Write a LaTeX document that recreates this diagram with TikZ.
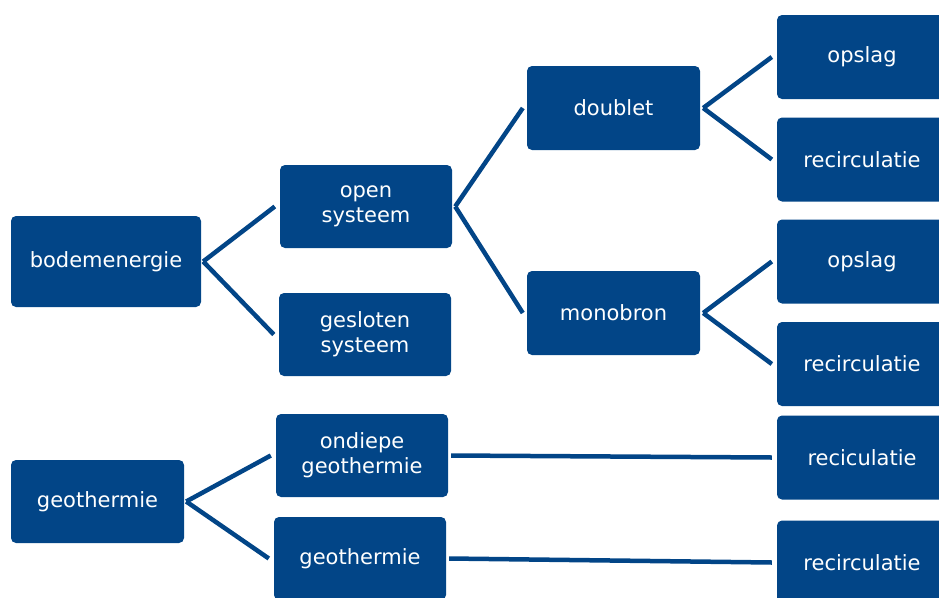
\documentclass[tikz,border=0pt]{standalone}
\usepackage{fontspec}
\setmainfont{DejaVu Sans}
\definecolor{bodemblue}{RGB}{2,69,135}
\begin{document}
\begin{tikzpicture}[x=1pt,y=-1pt,
    category/.style ={rectangle, rounded corners=5pt, fill=bodemblue, text=white, align=center,
                      inner sep=0pt, minimum width=172pt, minimum height=83pt,
                      font=\fontsize{21}{25}\selectfont},
    branch/.style ={draw=bodemblue, line width=4.5pt}]
   \useasboundingbox (0,0) rectangle (939,597);
   % left column
   \node[category, minimum width=190pt, minimum height=91pt] (bodem) at (106,261.5) {bodemenergie};
   \node[category, minimum width=173pt] (geoleft) at (97.5,501.5) {geothermie};
   % second column
   \node[category] (open) at (366,206.5) {open\\systeem};
   \node[category] (gesloten) at (365,334.5) {gesloten\\systeem};
   \node[category] (ondiepe) at (362,455.5) {ondiepe\\geothermie};
   \node[category] (geomid) at (360,558.5) {geothermie};
   % third column
   \node[category, minimum width=173pt, minimum height=84pt] (doublet) at (613.5,108) {doublet};
   \node[category, minimum width=173pt, minimum height=84pt] (monobron) at (613.5,313) {monobron};
   % right column
   \node[category, minimum width=170pt, minimum height=84pt] (opslagA) at (862,57) {opslag};
   \node[category, minimum width=170pt, minimum height=84pt] (recircA) at (862,159.5) {recirculatie};
   \node[category, minimum width=170pt, minimum height=84pt] (opslagB) at (862,261.5) {opslag};
   \node[category, minimum width=170pt, minimum height=84pt] (recircB) at (862,364) {recirculatie};
   \node[category, minimum width=170pt, minimum height=84pt] (recicul) at (862,457.5) {reciculatie};
   \node[category, minimum width=170pt, minimum height=84pt] (recircC) at (862,562.5) {recirculatie};
   % branches
   \draw[branch] ([xshift=2pt]bodem.east) -- ([xshift=-5pt]open.west);
   \draw[branch] ([xshift=2pt]bodem.east) -- ([xshift=-5pt]gesloten.west);
   \draw[branch] ([xshift=3pt]open.east) -- ([xshift=-4pt]doublet.west);
   \draw[branch] ([xshift=3pt]open.east) -- ([xshift=-4pt]monobron.west);
   \draw[branch] ([xshift=3pt]doublet.east) -- ([xshift=-5pt]opslagA.west);
   \draw[branch] ([xshift=3pt]doublet.east) -- ([xshift=-5pt]recircA.west);
   \draw[branch] ([xshift=3pt]monobron.east) -- ([xshift=-5pt]opslagB.west);
   \draw[branch] ([xshift=3pt]monobron.east) -- ([xshift=-5pt]recircB.west);
   \draw[branch] ([xshift=2pt]geoleft.east) -- ([xshift=-5pt]ondiepe.west);
   \draw[branch] ([xshift=2pt]geoleft.east) -- ([xshift=-5pt]geomid.west);
   \draw[branch] ([xshift=3pt]ondiepe.east) -- ([xshift=-5pt]recicul.west);
   \draw[branch] ([xshift=3pt]geomid.east) -- ([xshift=-5pt]recircC.west);
 \end{tikzpicture}
\end{document}
